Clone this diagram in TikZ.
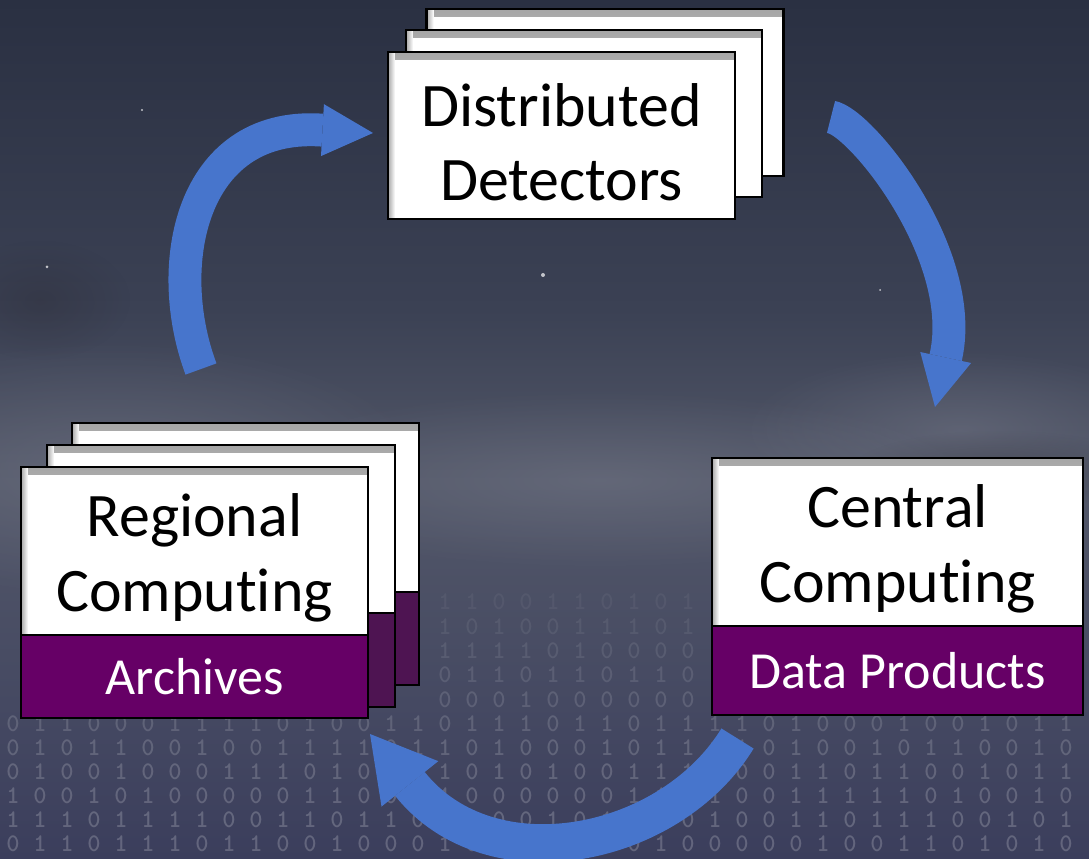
\documentclass[tikz,border=0pt]{standalone}
\usepackage{fontspec}
\setmainfont{Carlito}[Ligatures=NoCommon]
\usetikzlibrary{positioning,arrows.meta,fadings}

\definecolor{skytop}{HTML}{2A3042}
\definecolor{skyhigh}{HTML}{3B4154}
\definecolor{skyhaze}{HTML}{525768}
\definecolor{skydeep}{HTML}{454962}
\definecolor{skylow}{HTML}{3B3E5C}
\definecolor{hazegray}{HTML}{8A8D9C}
\definecolor{dustdark}{HTML}{2A2830}
\definecolor{bandpurple}{HTML}{660066}
\definecolor{backpurple}{HTML}{4E1452}
\definecolor{flowblue}{HTML}{4775CC}

% sky gradient, bottom (25bp) to top (75bp)
\pgfdeclareverticalshading{nightsky}{100bp}{color(0bp)=(skylow); color(25bp)=(skylow);
  color(34bp)=(skydeep); color(47bp)=(skyhaze); color(57bp)=(skyhigh);
  color(75bp)=(skytop); color(100bp)=(skytop)}
\tikzfading[name=softblob, inner color=transparent!0, outer color=transparent!100]

% taller first line, pushes the two-line labels down a little
\newcommand{\cardtop}{\rule{0pt}{40pt}}

\tikzset{
  card/.style={draw=black, line width=2pt, fill=white, inner sep=0pt, outer sep=0pt,
    align=center, font=\fontsize{44}{53}\selectfont, text=black,
    path picture={
      \shade[top color=black!35, bottom color=white]
        (path picture bounding box.north west) rectangle ([yshift=-5pt]path picture bounding box.north east);
      \shade[left color=black!35, right color=white]
        (path picture bounding box.north west) rectangle ([xshift=5pt]path picture bounding box.south west);
    }},
  band/.style={draw=black, line width=2pt, fill=bandpurple, inner sep=0pt, outer sep=0pt,
    font=\fontsize{37}{44}\selectfont, text=white},
  flow/.style={draw=flowblue, line width=23.4pt,
    -{Triangle[width=37pt,length=36pt,line width=0pt]}},
  bit/.style={font=\ttfamily\bfseries\fontsize{18}{18}\selectfont, text=white, inner sep=0pt},
}

% one row of background digits: y, opacity, first column, digits
\newcommand{\bitrow}[4]{\foreach \b [count=\i from #3] in {#4} \node[bit, opacity=#2] at (\i*27-14, #1) {\b};}

\begin{document}
\begin{tikzpicture}[x=0.025cm, y=-0.025cm]
\useasboundingbox (0,0) rectangle (1089,859);
\clip (0,0) rectangle (1089,859);

% sky and haze
\shade[shading=nightsky] (0,0) rectangle (1089,859);
\foreach \hx/\hy/\rx/\ry in {110/470/320/130, 600/480/380/90, 960/430/220/80}
  \fill[hazegray, opacity=.3, path fading=softblob] (\hx,\hy) ellipse [x radius=\rx, y radius=\ry];
\foreach \hx/\hy/\rx/\ry in {40/300/90/60, 250/470/120/40, 1000/470/150/40}
  \fill[dustdark, opacity=.3, path fading=softblob] (\hx,\hy) ellipse [x radius=\rx, y radius=\ry];
\foreach \sx/\sy/\sr in {543/275/2, 47/267/1.5, 142/110/1.2, 880/290/1}
  \fill[white, opacity=.7] (\sx,\sy) circle (\sr);

% binary digits, only the gap between the boxes up top
\bitrow{602}{.05}{17}{1,1,0,0,1,1,0,1,0,1}
\bitrow{627}{.07}{17}{1,0,1,0,0,1,1,1,0,1}
\bitrow{651}{.09}{17}{1,1,1,1,0,1,0,0,0,0}
\bitrow{675}{.11}{17}{0,1,1,0,1,1,0,1,1,0}
\bitrow{700}{.13}{17}{0,0,0,1,0,0,0,0,0,0}
\bitrow{724}{.15}{1}{0,1,1,0,0,0,1,1,1,1,0,1,0,0,1,1,0,1,1,1,0,1,1,0,1,1,1,1,0,1,0,0,0,1,0,0,1,0,1,1}
\bitrow{748}{.17}{1}{0,1,0,1,1,0,0,1,0,0,1,1,1,1,0,1,1,0,1,0,0,0,1,0,1,1,1,1,0,1,0,0,1,0,1,1,0,0,1,0}
\bitrow{772}{.18}{1}{0,1,0,0,1,0,0,0,1,1,1,0,1,0,1,0,1,0,1,0,1,0,0,1,1,1,1,0,0,1,1,0,1,1,0,0,1,0,1,1}
\bitrow{796}{.19}{1}{1,0,0,1,0,1,0,0,0,0,0,1,1,0,0,1,1,0,0,0,0,0,0,1,1,1,1,0,0,1,1,1,1,1,0,1,0,0,1,0}
\bitrow{820}{.20}{1}{1,1,1,0,1,1,1,1,0,0,1,1,0,1,1,0,0,1,0,0,1,0,1,0,1,0,1,0,0,1,1,0,1,1,1,0,0,1,0,1}
\bitrow{844}{.20}{1}{0,1,1,0,1,1,1,0,1,1,0,0,1,0,0,0,1,0,0,1,0,0,1,0,1,0,0,0,0,0,1,0,0,1,1,0,1,0,1,0}

% distributed detectors stack
\node[card, minimum width=8.925cm, minimum height=4.175cm] (det3) at (605,92.5) {};
\node[card, minimum width=8.9cm, minimum height=4.175cm] (det2) at (584,113.5) {};
\node[card, minimum width=8.675cm, minimum height=4.175cm] (det) at (561.5,135.5) {\cardtop Distributed\\Detectors};

% regional computing stack
\node[card, minimum width=8.675cm, minimum height=4.225cm] (reg3) at (245.5,507.5) {};
\node[band, fill=backpurple, minimum width=8.675cm, minimum height=2.325cm, below=0pt of reg3] (arch3) {};
\node[card, minimum width=8.7cm, minimum height=4.2cm] (reg2) at (221,529) {};
\node[band, fill=backpurple, minimum width=8.7cm, minimum height=2.35cm, below=0pt of reg2] (arch2) {};
\node[card, minimum width=8.675cm, minimum height=4.2cm] (reg) at (194.5,551) {\cardtop Regional\\Computing};
\node[band, minimum width=8.675cm, minimum height=2.075cm, below=0pt of reg] (arch) {Archives};

% central computing
\node[card, minimum width=9.275cm, minimum height=4.2cm] (central) at (897.5,542) {\cardtop Central\\Computing};
\node[band, minimum width=9.275cm, minimum height=2.225cm, below=0pt of central] (products) {Data Products};

% flow arrows
\coordinate (reg-out) at (201,369);
\coordinate (det-in) at (373,133);
\coordinate (det-out) at (831,117);
\coordinate (cen-in) at (935,407);
\coordinate (cen-out) at (737.5,738.5);
\coordinate (reg-in) at (370,734);
\draw[flow] (reg-out) .. controls (162.4,266) and (190,122.7) .. (320,130) -- (det-in);
\draw[flow] (det-out) .. controls (860,121) and (968,254) .. (946,356) -- (cen-in);
\draw[flow, line width=27pt, -{Triangle[width=51.7pt,length=45.4pt,line width=0pt]}]
  (cen-out) .. controls (670,848.5) and (490.6,884.7) .. (410,784) -- (reg-in);
\end{tikzpicture}
\end{document}
